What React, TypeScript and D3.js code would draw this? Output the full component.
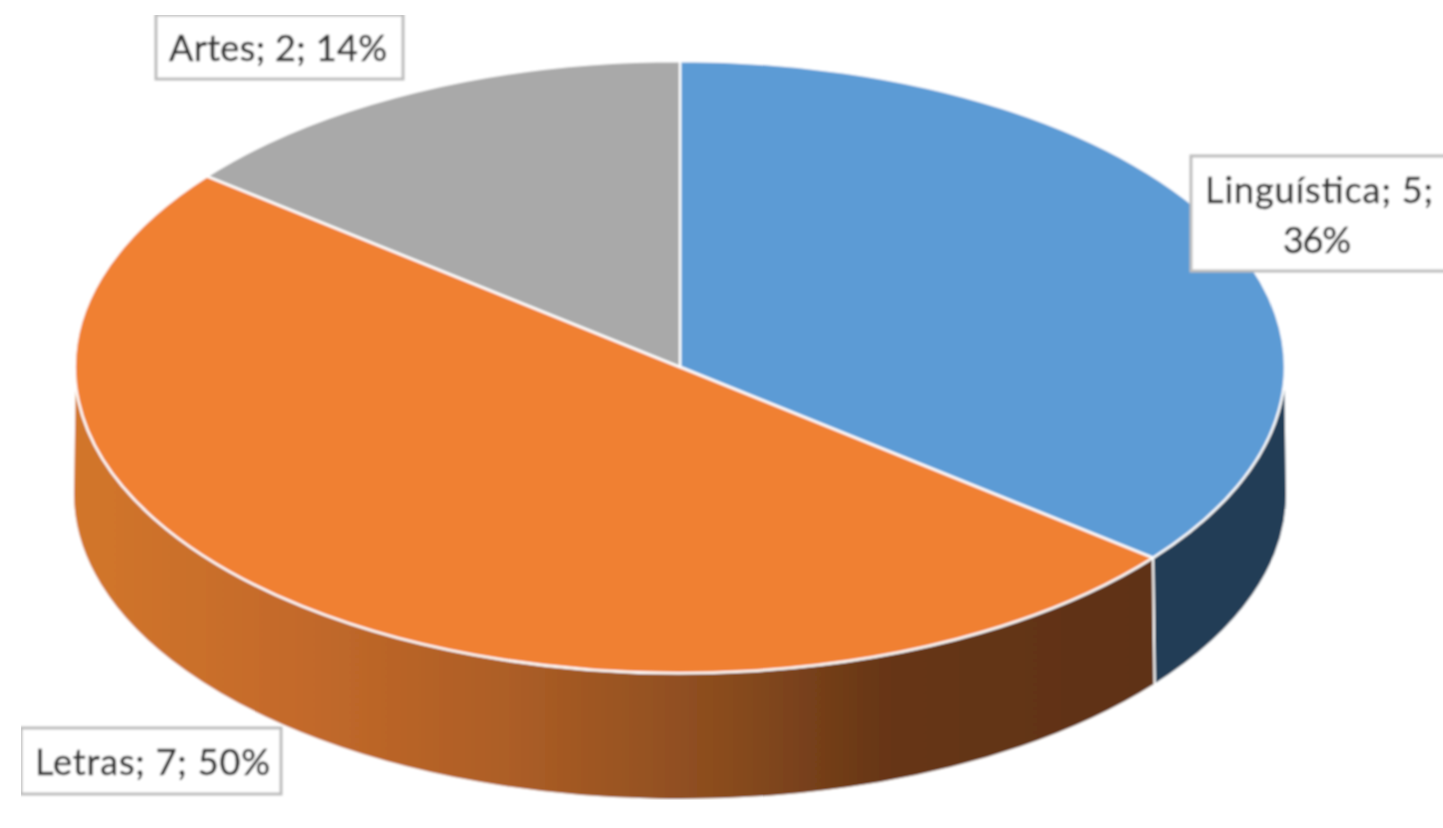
import React from "react";
import * as d3 from "d3";

const categories = ["Linguística", "Letras", "Artes"];
const values = [5, 7, 2];
const percents = ["36%", "50%", "14%"];
const topColors = ["#5b9bd5", "#f08030", "#a9a9a9"];

const W = 1443, H = 828;
const cx = 680, cy = 367, rx = 605, ry = 306, depth = 127;
const R = 1000;

const slices = d3.pie<number>().sort(null)(values);
const arcGen = d3.arc<any>().innerRadius(0).outerRadius(R);

const px = (t: number) => cx + rx * Math.sin(t);
const py = (t: number) => cy - ry * Math.cos(t);

const wallRx = rx + 2;
const bx = (t: number) => cx + wallRx * Math.sin(t);
const by = (t: number) => cy + depth - ry * Math.cos(t);

// side wall between two ellipse parameters (clockwise from the top)
function wall(a: number, b: number) {
  const top = `M${px(a)},${py(a)}A${rx},${ry} 0 0 1 ${px(b)},${py(b)}`;
  return `${top}L${bx(b)},${by(b)}A${wallRx},${ry} 0 0 0 ${bx(a)},${by(a)}Z`;
}

const sideStops: [number, string][] = [
  [0, "#d2762c"], [0.2, "#c46a2a"], [0.4, "#ad5e26"], [0.6, "#8a4c1f"], [0.75, "#673616"], [1, "#5f3213"],
];

const font = "Lato, 'Open Sans', sans-serif";
const labels = [
  { box: [156, 15, 247, 64], lines: [{ t: `${categories[2]}; ${values[2]}; ${percents[2]}`, x: 169, y: 61, w: 218 }] },
  {
    box: [1191, 156, 262, 115],
    lines: [
      { t: `${categories[0]}; ${values[0]};`, x: 1205, y: 203, w: 228 },
      { t: percents[0], x: 1283, y: 253, w: 68 },
    ],
  },
  { box: [21, 728, 260, 66], lines: [{ t: `${categories[1]}; ${values[1]}; ${percents[1]}`, x: 35, y: 775, w: 235 }] },
];

export default function App() {
  const blueWall = wall(Math.PI / 2, slices[0].endAngle);
  const orangeWall = wall(slices[1].startAngle, (3 * Math.PI) / 2);
  return (
    <svg
      width={W}
      height={H}
      viewBox={`0 0 ${W} ${H}`}
      style={{ position: "absolute", left: 0, top: 0, background: "#fff" }}
    >
      <defs>
        <linearGradient id="side" gradientUnits="userSpaceOnUse" x1={cx - rx} x2={px(slices[1].startAngle)} y1={0} y2={0}>
          {sideStops.map(([o, c]) => (
            <stop key={o} offset={o} stopColor={c} />
          ))}
        </linearGradient>
        <filter id="soft" x="0" y="0" width="100%" height="100%">
          <feGaussianBlur stdDeviation="0.8" />
        </filter>
      </defs>
      <g filter="url(#soft)">
        <path d={blueWall} fill="#203d57" stroke="#fff" strokeWidth={2} />
        <path d={orangeWall} fill="url(#side)" stroke="#fff" strokeWidth={2} />
        <g transform={`translate(${cx},${cy}) scale(${rx / R},${ry / R})`}>
          {slices.map((s, i) => (
            <path
              key={i}
              d={arcGen(s) as string}
              fill={topColors[i]}
              stroke="#fff"
              strokeWidth={2.5}
              vectorEffect="non-scaling-stroke"
            />
          ))}
        </g>
        {labels.map((l, i) => (
          <g key={i}>
            <rect x={l.box[0]} y={l.box[1]} width={l.box[2]} height={l.box[3]} fill="#fff" stroke="#bdbdbd" strokeWidth={3} />
            {l.lines.map((ln, j) => (
              <text
                key={j}
                x={ln.x}
                y={ln.y}
                textLength={ln.w}
                lengthAdjust="spacing"
                fontFamily={font}
                fontSize={36}
                fill="#333"
                stroke="#333"
                strokeWidth={0.5}
              >
                {ln.t}
              </text>
            ))}
          </g>
        ))}
      </g>
    </svg>
  );
}
